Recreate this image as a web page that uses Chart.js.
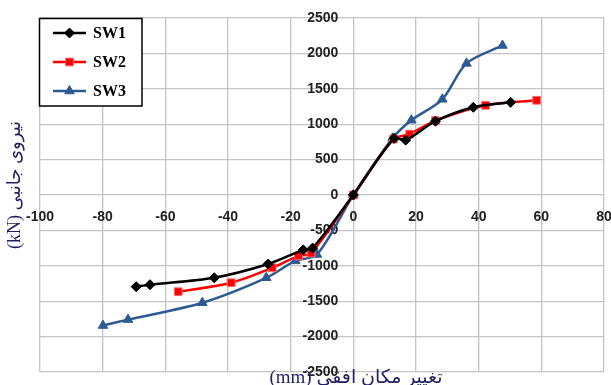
<!DOCTYPE html>
<html>
<head>
<meta charset="utf-8">
<script src="https://cdn.jsdelivr.net/npm/chart.js@4/dist/chart.umd.min.js"></script>
<style>
  html, body { margin: 0; padding: 0; background: #fff; }
  #wrap { width: 611px; height: 385px; position: relative; }
</style>
</head>
<body>
<div id="wrap"><canvas id="c" width="611" height="385"></canvas></div>
<script>
// ---- data ----
const seriesNames = ['SW1', 'SW2', 'SW3'];
const sw1Disp  = [-69.3, -64.9, -44.4, -27.2, -16, -13, 0, 13, 16.7, 26.2, 38.3, 50.2];
const sw1Force = [-1295, -1267, -1169, -975, -775, -750, 0, 800, 775, 1042, 1239, 1309];
const sw2Disp  = [-55.9, -39, -25.9, -17.5, -13.5, 0, 12.8, 18, 26.2, 42.2, 58.5];
const sw2Force = [-1366, -1239, -1028, -860, -820, 0, 790, 860, 1050, 1267, 1338];
const sw3Disp  = [-79.9, -71.9, -48.2, -27.8, -18.5, -11.6, 0, 12.5, 18.5, 28.4, 36.1, 47.6];
const sw3Force = [-1844, -1760, -1521, -1169, -930, -840, 0, 800, 1056, 1352, 1859, 2112];
const xTicks = [-100, -80, -60, -40, -20, 0, 20, 40, 60, 80];
const yTicks = [-2500, -2000, -1500, -1000, -500, 0, 500, 1000, 1500, 2000, 2500];
const xTitle = 'تغییر مکان افقی (mm)';
const yTitle = 'نیروی جانبی (kN)';

const pts = (xs, ys) => xs.map((x, i) => ({ x: x, y: ys[i] }));

const styles = [
  { color: '#000000', fill: '#000000', border: '#000000', pointStyle: 'rectRot', radius: 5 },
  { color: '#ff0000', fill: '#ff0000', border: '#f07070', pointStyle: 'rect', radius: 5.5 },
  { color: '#2e5a94', fill: '#2e5a94', border: '#2e5a94', pointStyle: 'triangle', radius: 5.5 }
];
const raw = [[sw1Disp, sw1Force], [sw2Disp, sw2Force], [sw3Disp, sw3Force]];

const datasets = raw.map((r, i) => ({
  label: seriesNames[i],
  data: pts(r[0], r[1]),
  showLine: true,
  borderColor: styles[i].color,
  backgroundColor: styles[i].fill,
  pointBackgroundColor: styles[i].fill,
  pointBorderColor: styles[i].border,
  pointBorderWidth: 1,
  pointStyle: styles[i].pointStyle,
  pointRadius: styles[i].radius,
  borderWidth: 2.5,
  tension: 0.3
}));

const navy = '#1f1f62';

// shift y tick labels left of the crossing axis (center-positioned axes ignore padding)
const shiftLabels = {
  id: 'shiftLabels',
  beforeDraw(chart) {
    const s = chart.scales.y;
    const items = s.getLabelItems(chart.chartArea);
    if (!items._shifted) {
      items.forEach(it => { it.options.translation[0] -= 15; });
      items._shifted = true;
    }
  }
};

const overlay = {
  id: 'overlay',
  afterDraw(chart) {
    const ctx = chart.ctx;
    ctx.save();
    // legend box
    ctx.fillStyle = '#ffffff';
    ctx.fillRect(39, 18, 103, 88);
    ctx.strokeStyle = '#000000';
    ctx.lineWidth = 1.5;
    ctx.strokeRect(39.5, 18.5, 102.5, 87.5);
    chart.data.datasets.forEach((ds, i) => {
      const y = 33 + i * 29;
      ctx.strokeStyle = ds.borderColor;
      ctx.lineWidth = 2.5;
      ctx.beginPath();
      ctx.moveTo(53, y);
      ctx.lineTo(86, y);
      ctx.stroke();
      ctx.fillStyle = ds.pointBackgroundColor;
      ctx.strokeStyle = ds.pointBorderColor;
      ctx.lineWidth = 1;
      Chart.helpers.drawPoint(ctx, { pointStyle: ds.pointStyle, radius: ds.pointRadius, rotation: 0, borderWidth: 1 }, 69.5, y);
      ctx.fillStyle = '#000000';
      ctx.font = 'bold 16px "Liberation Serif", "Times New Roman", serif';
      ctx.textAlign = 'left';
      ctx.textBaseline = 'middle';
      ctx.fillText(ds.label, 93, y + 1);
    });
    // y axis title (rotated)
    ctx.fillStyle = navy;
    ctx.font = '18px "Liberation Serif", "DejaVu Sans", serif';
    ctx.textAlign = 'center';
    ctx.textBaseline = 'middle';
    ctx.direction = 'rtl';
    ctx.save();
    ctx.translate(15, 185);
    ctx.rotate(-Math.PI / 2);
    ctx.fillText(yTitle, 0, 0);
    ctx.restore();
    // x axis title
    ctx.font = '19px "Liberation Serif", "DejaVu Sans", serif';
    ctx.fillText(xTitle, 356, 378);
    ctx.restore();
  }
};

const zeroPad = (s) => { s.paddingLeft = 0; s.paddingRight = 0; s.paddingTop = 0; s.paddingBottom = 0; };
const tickFont = { family: '"Liberation Sans", Arial, sans-serif', size: 14, weight: 'bold' };

new Chart(document.getElementById('c'), {
  type: 'scatter',
  data: { datasets: datasets },
  options: {
    responsive: false,
    animation: false,
    devicePixelRatio: 1,
    layout: { padding: { left: 40, top: 18, right: 7, bottom: 13 } },
    plugins: { legend: { display: false }, tooltip: { enabled: false } },
    scales: {
      x: {
        type: 'linear',
        position: { y: 0 },
        min: xTicks[0],
        max: xTicks[xTicks.length - 1],
        afterBuildTicks: (s) => { s.ticks = xTicks.map(v => ({ value: v })); },
        afterFit: zeroPad,
        grid: { color: '#c4c4c4', lineWidth: 1.3, drawTicks: false },
        border: { display: false },
        ticks: {
          padding: 14,
          color: '#222',
          font: tickFont,
          maxRotation: 0,
          autoSkip: false,
          callback: (v) => String(v)
        }
      },
      y: {
        type: 'linear',
        position: { x: 0 },
        min: yTicks[0],
        max: yTicks[yTicks.length - 1],
        afterBuildTicks: (s) => { s.ticks = yTicks.map(v => ({ value: v })); },
        afterFit: zeroPad,
        grid: { color: '#c4c4c4', lineWidth: 1.3, drawTicks: false },
        border: { display: false },
        ticks: {
          padding: 15,
          color: '#222',
          font: tickFont,
          autoSkip: false,
          callback: (v) => String(v)
        }
      }
    }
  },
  plugins: [shiftLabels, overlay]
});
</script>
</body>
</html>
